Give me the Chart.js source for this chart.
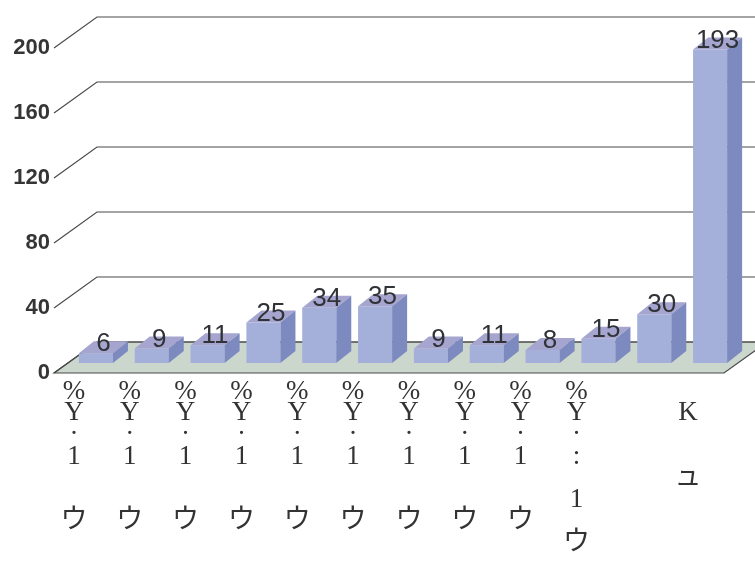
<!DOCTYPE html>
<html>
<head>
<meta charset="utf-8">
<script src="https://cdn.jsdelivr.net/npm/chart.js@4"></script>
<style>
html,body{margin:0;padding:0;background:#fff;}
canvas{display:block;}
</style>
</head>
<body>
<canvas id="c" width="755" height="561"></canvas>
<script>
// ---- data ----
const categories = [
  ["%","Y","·","1","","","ウ"],
  ["%","Y","·","1","","","ウ"],
  ["%","Y","·","1","","","ウ"],
  ["%","Y","·","1","","","ウ"],
  ["%","Y","·","1","","","ウ"],
  ["%","Y","·","1","","","ウ"],
  ["%","Y","·","1","","","ウ"],
  ["%","Y","·","1","","","ウ"],
  ["%","Y","·","1","","","ウ"],
  ["%","Y","·",":","","1","","ウ"],
  "",
  ["","K","","","ュ"]
];
const values = [6, 9, 11, 25, 34, 35, 9, 11, 8, 15, 30, 193];
const yTicks = [0, 40, 80, 120, 160, 200];

// ---- colours ----
const FRONT = '#a5b0da';
const TOP = '#a6a5cf';
const SIDE = '#7c8abf';
const FLOOR = '#cbd6cd';
const GRID = '#4a4a4a';

const depth3d = {
  id: 'depth3d',
  beforeDatasetsDraw(chart) {
    const {ctx, chartArea, scales: {y}} = chart;
    const FX = -14, FY = 10, BX = 29, BY = -21;
    const W = chart.width;
    const y0 = y.getPixelForValue(0);
    ctx.save();
    // floor
    ctx.fillStyle = FLOOR;
    ctx.beginPath();
    ctx.moveTo(chartArea.left + FX, y0 + FY);
    ctx.lineTo(chartArea.right + FX, y0 + FY);
    ctx.lineTo(chartArea.right + BX, y0 + BY);
    ctx.lineTo(chartArea.left + BX, y0 + BY);
    ctx.closePath();
    ctx.fill();
    ctx.strokeStyle = GRID;
    ctx.lineWidth = 1.2;
    ctx.stroke();
    // grid lines (slanted side wall + back wall)
    yTicks.forEach(v => {
      const py = y.getPixelForValue(v);
      ctx.beginPath();
      ctx.moveTo(chartArea.left + FX, py + FY);
      ctx.lineTo(chartArea.left + BX, py + BY);
      ctx.lineTo(W + 60, py + BY);
      ctx.stroke();
    });
    ctx.restore();
  },
  afterDatasetsDraw(chart) {
    const {ctx} = chart;
    const meta = chart.getDatasetMeta(0);
    const DX = 15, DY = -12;
    ctx.save();
    meta.data.forEach((bar, i) => {
      const p = bar.getProps(['x', 'y', 'base', 'width'], true);
      const l = p.x - p.width / 2, r = p.x + p.width / 2, top = p.y, base = p.base;
      ctx.fillStyle = TOP;
      ctx.beginPath();
      ctx.moveTo(l, top); ctx.lineTo(l + DX, top + DY);
      ctx.lineTo(r + DX, top + DY); ctx.lineTo(r, top);
      ctx.closePath(); ctx.fill();
      ctx.fillStyle = SIDE;
      ctx.beginPath();
      ctx.moveTo(r, top); ctx.lineTo(r + DX, top + DY);
      ctx.lineTo(r + DX, base + DY); ctx.lineTo(r, base);
      ctx.closePath(); ctx.fill();
    });
    ctx.fillStyle = '#2f3236';
    ctx.font = '26px "Liberation Sans", Arial, sans-serif';
    ctx.textAlign = 'center';
    ctx.textBaseline = 'middle';
    meta.data.forEach((bar, i) => {
      const p = bar.getProps(['x', 'y'], true);
      ctx.fillText(String(values[i]), p.x + DX / 2, p.y - 9);
    });
    ctx.restore();
  }
};

new Chart(document.getElementById('c'), {
  type: 'bar',
  data: {
    labels: categories,
    datasets: [{
      data: values,
      backgroundColor: FRONT,
      borderWidth: 0,
      barPercentage: 0.61,
      categoryPercentage: 1.0
    }]
  },
  options: {
    responsive: false,
    animation: false,
    layout: {padding: {left: 0, right: 17, top: 38, bottom: 0}},
    plugins: {legend: {display: false}, tooltip: {enabled: false}},
    scales: {
      x: {
        grid: {display: false, drawTicks: false},
        border: {display: false},
        ticks: {
          autoSkip: false,
          maxRotation: 0,
          minRotation: 0,
          padding: 18,
          labelOffset: -22,
          color: '#333',
          font: {family: '"Liberation Serif", "Noto Sans CJK JP", serif', size: 27, lineHeight: '21.6px'}
        },
        afterFit(scale) { scale.height = 198; }
      },
      y: {
        min: 0,
        max: 200,
        grid: {display: false, drawTicks: false},
        border: {display: false},
        ticks: {
          stepSize: 40,
          padding: 18,
          labelOffset: 10,
          color: '#353535',
          font: {family: '"Liberation Sans", Arial, sans-serif', size: 22, weight: 'bold'}
        },
        afterFit(scale) { scale.width = 68; }
      }
    }
  },
  plugins: [depth3d]
});
</script>
</body>
</html>
